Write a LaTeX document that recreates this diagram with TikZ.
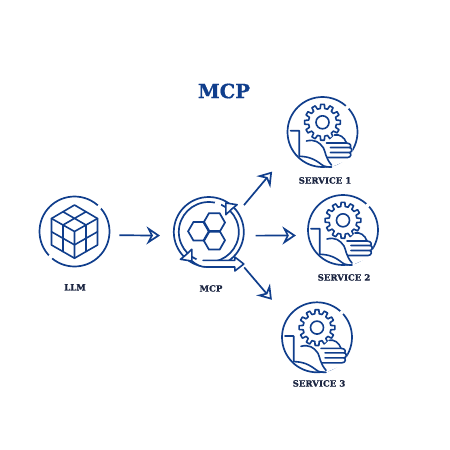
\documentclass[tikz,border=0pt]{standalone}
\usepackage{fontspec}
\setmainfont[BoldFeatures={FakeBold=0.8}]{DejaVu Serif}
\usetikzlibrary{arrows.meta,shapes.geometric}
\definecolor{mcpblue}{RGB}{16,62,140}
\definecolor{labelink}{RGB}{28,38,66}

\begin{document}
\begin{tikzpicture}[
  x=1pt,y=-1pt,
  ring/.style={circle,draw=mcpblue,line width=1.7pt,minimum size=70pt,inner sep=0pt,outer sep=0pt},
  hexcell/.style={regular polygon,regular polygon sides=6,draw=mcpblue,
                  line width=1.7pt,minimum size=21.4pt,inner sep=0pt,outer sep=0pt},
  icon/.style={draw=mcpblue,line width=1.6pt,line join=round,line cap=round},
  gapmark/.style={draw=white,line width=2.8pt},
  caption/.style={font=\bfseries\fontsize{8.6}{10}\selectfont,text=labelink,inner sep=0pt},
  title/.style={font=\bfseries\fontsize{19.6}{24}\selectfont,text=mcpblue,inner sep=0pt},
  flow/.style={draw=mcpblue,line width=1.7pt,
               -{Stealth[open,length=13.5pt,width=18pt,inset=4.5pt,line width=1.7pt]}},
]
\useasboundingbox (0,0) rectangle (450,450);
\fill[white] (0,0) rectangle (450,450);

%% ---------------------------------------------------------------- title
\node[title] (head) at (224,91) {MCP};

%% ------------------------------------------------------------------ llm
\node[ring] (llm) at (74.5,231.5) {};
\node[caption,below=1pt] (llmlabel) at (75,283) {LLM};
\begin{scope}[shift={(74.5,231.5)}]
  \draw[gapmark] (-48:35) arc[start angle=-48,end angle=-41,radius=35];
  \draw[gapmark] (130:35) arc[start angle=130,end angle=137,radius=35];
  \draw[icon] (0,-26.5) -- (23,-13) -- (23,13.5) -- (0,26.7) -- (-23,13.5) -- (-23,-13) -- cycle;
  \draw[icon] (-23,-13) -- (0,0) -- (23,-13) (0,0) -- (0,26.7);
  \draw[icon] (-11.5,-19.75) -- (11.5,-6.5) (11.5,-19.75) -- (-11.5,-6.5);
  \draw[icon] (-11.5,-6.5) -- (-11.5,20) (11.5,-6.5) -- (11.5,20);
  \draw[icon] (-23,0.25) -- (0,13.35) -- (23,0.25);
\end{scope}

%% ------------------------------------------------------------------ mcp
\node[ring] (mcp) at (208.8,232) {};
\node[ring,minimum size=60pt] (mcpin) at (208.8,232) {};
\node[caption,below=1pt] (mcplabel) at (211,284) {MCP};
\node[hexcell] (hex1) at (198.8,231.3) {};
\node[hexcell] (hex2) at (214.3,222.5) {};
\node[hexcell] (hex3) at (214.3,240.3) {};
\begin{scope}[shift={(208.8,232)}]
  \draw[gapmark] (-78:30) arc[start angle=-78,end angle=-66,radius=30];
  \draw[gapmark] (102:30) arc[start angle=102,end angle=114,radius=30];
  % round arrow heads
  \draw[icon,fill=white] (17,-29) -- (28.3,-27.3) -- (23,-23) -- (17,-17.3) -- cycle;
  \draw[icon,fill=white] (-17,29) -- (-28.3,27.3) -- (-23,23) -- (-17,17.3) -- cycle;
  % band running out under the ring
  \draw[icon,fill=white] (-17,29) .. controls (-12,33) and (-8,35) .. (-2,35) -- (26,35)
    -- (26,39) -- (35,32) -- (26,25) -- (26,28.3) -- (-5.7,28.3);
\end{scope}

%% ------------------------------------------------------------- services
\foreach \sx/\sy/\sn/\lx/\ly in {322.5/132/1/325/176, 343/230/2/344/273, 317/337.3/3/319/379}{
  \node[ring] (svc\sn) at (\sx,\sy) {};
  \node[caption,below=1pt] (svclabel\sn) at (\lx,\ly) {SERVICE \sn};
  \begin{scope}[shift={(\sx,\sy)}]
    \draw[gapmark] (-48:35) arc[start angle=-48,end angle=-42,radius=35];
    \draw[gapmark] (72:35) arc[start angle=72,end angle=78,radius=35];
    % gear
    \begin{scope}[shift={(0,-9.7)}]
      \draw[icon] (-9:14) \foreach \ga in {0,30,...,330}{
        -- (\ga-9:14) -- (\ga-6:18) -- (\ga+6:18) -- (\ga+9:14) } -- cycle;
      \draw[icon] (0,0) circle[radius=6.5];
    \end{scope}
    % hand
    \fill[white] (-23,10) -- (-16,9) .. controls (-8,7) and (-3,9) .. (4,11)
      -- (12,3) .. controls (17,2) and (22,5) .. (24,11) -- (30,14) -- (30,26) -- (9,35)
      -- (-23,25) -- cycle;
    \draw[icon] (-32,-1.3) -- (-23.3,-1.3) -- (-23.3,24.3)
      .. controls (-14,24.5) and (-8,27) .. (-1,32.5) .. controls (2,35) and (5,35) .. (9,35);
    \draw[icon] (-16,9) .. controls (-8,7) and (-3,10) .. (1,16) .. controls (3,20) and (3,26) .. (9,33);
    \draw[icon] (4,11) -- (24,11) .. controls (29,11) and (29,15.5) .. (27,15.5) -- (8,15.5);
    \draw[icon] (27,15.5) .. controls (30,15.5) and (30,20.5) .. (27,20.5) -- (8,20.5);
    \draw[icon] (27,20.5) .. controls (29,21) and (29,25.5) .. (25,25.5) -- (5,25.5);
    \draw[icon] (12,3) .. controls (17,2) and (22,5) .. (24,11);
  \end{scope}
}

%% ------------------------------------------------------------ connectors
\draw[flow,shorten <=10pt,shorten >=14pt] (llm.-6) -- (mcp.-174);
\draw[flow,shorten <=9.6pt,shorten >=30.3pt] (mcp.34) -- (svc1.208);
\draw[flow,shorten <=12pt,shorten >=12.5pt] (mcp.-6.6) -- (svc2.189.9);
\draw[flow,shorten <=15.2pt,shorten >=24.3pt] (mcp.-43.7) -- (svc3.147.4);

\end{tikzpicture}
\end{document}
